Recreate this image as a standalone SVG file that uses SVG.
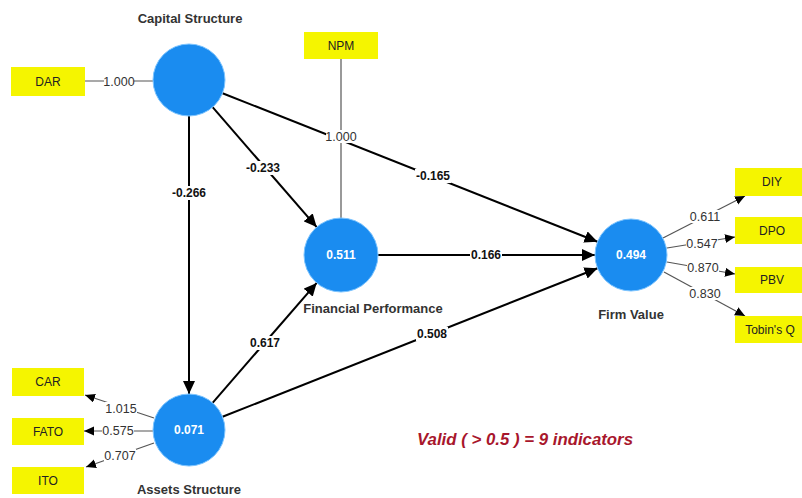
<svg xmlns="http://www.w3.org/2000/svg" width="802" height="498" viewBox="0 0 802 498">
<defs>
<marker id="ah" markerUnits="userSpaceOnUse" markerWidth="14" markerHeight="12" refX="13" refY="6" orient="auto"><path d="M0,0 L13,6 L0,12 z" fill="#000"/></marker>
<marker id="ahs" markerUnits="userSpaceOnUse" markerWidth="11" markerHeight="10" refX="10" refY="4.5" orient="auto"><path d="M0,0 L10,4.5 L0,9 z" fill="#000"/></marker>
</defs>
<style>
.lv{fill:#1a8cf0;stroke:#7cc4ff;stroke-width:1}
.ind{fill:#f5f500}
.it{font-family:"Liberation Sans",Arial,sans-serif;font-size:12px;fill:#222;text-anchor:middle}
.nm{font-family:"Liberation Sans",Arial,sans-serif;font-size:13px;font-weight:bold;fill:#333;text-anchor:middle}
.r2{font-family:"Liberation Sans",Arial,sans-serif;font-size:12px;font-weight:bold;fill:#fff;text-anchor:middle}
.pth{stroke:#000;stroke-width:2;fill:none;marker-end:url(#ah)}
.ld{stroke:#555;stroke-width:1.2;fill:none}
.lda{stroke:#555;stroke-width:1.2;fill:none;marker-end:url(#ahs)}
.bg{fill:#fff}
.pc{font-family:"Liberation Sans",Arial,sans-serif;font-size:12px;font-weight:bold;fill:#111;text-anchor:middle}
.lc{font-family:"Liberation Sans",Arial,sans-serif;font-size:12.5px;fill:#333;text-anchor:middle}
</style>
<rect width="802" height="498" fill="#fff"/>
<g id="connectors">
<line class="ld" x1="85" y1="81" x2="153" y2="81"/>
<line class="ld" x1="341" y1="59" x2="341" y2="218"/>
<line class="pth" x1="212.6" y1="107.2" x2="316.7" y2="227.1"/>
<line class="pth" x1="222.5" y1="93.2" x2="597.5" y2="241.8"/>
<line class="pth" x1="189" y1="116" x2="189" y2="394"/>
<line class="pth" x1="378" y1="255" x2="595" y2="255"/>
<line class="pth" x1="212.6" y1="402.8" x2="316.7" y2="282.9"/>
<line class="pth" x1="222.5" y1="416.8" x2="597.5" y2="268.2"/>
<line class="lda" x1="663" y1="238" x2="745" y2="196"/>
<line class="lda" x1="667" y1="248" x2="735" y2="237"/>
<line class="lda" x1="667" y1="262" x2="735" y2="274"/>
<line class="lda" x1="664" y1="272" x2="745" y2="316"/>
<line class="lda" x1="154" y1="418" x2="85" y2="395"/>
<line class="lda" x1="153" y1="431" x2="84" y2="431"/>
<line class="lda" x1="154" y1="443" x2="86" y2="467"/>
<rect class="bg" x="104" y="75" width="30" height="13"/>
<rect class="bg" x="326" y="130" width="30" height="13"/>
<rect class="bg" x="171" y="186" width="36" height="14"/>
<rect class="bg" x="245" y="161" width="36" height="14"/>
<rect class="bg" x="415" y="169" width="36" height="14"/>
<rect class="bg" x="470" y="248" width="32" height="14"/>
<rect class="bg" x="249" y="336" width="32" height="14"/>
<rect class="bg" x="416" y="327" width="32" height="14"/>
<rect class="bg" x="689" y="210" width="32" height="13"/>
<rect class="bg" x="686" y="237" width="32" height="13"/>
<rect class="bg" x="687" y="261" width="32" height="13"/>
<rect class="bg" x="689" y="287" width="32" height="13"/>
<rect class="bg" x="105" y="402" width="32" height="13"/>
<rect class="bg" x="102" y="424" width="32" height="13"/>
<rect class="bg" x="104" y="449" width="32" height="13"/>
<text class="lc" x="119" y="86">1.000</text>
<text class="lc" x="341" y="141">1.000</text>
<text class="pc" x="189" y="197">-0.266</text>
<text class="pc" x="263" y="172">-0.233</text>
<text class="pc" x="433" y="180">-0.165</text>
<text class="pc" x="486" y="259">0.166</text>
<text class="pc" x="265" y="347">0.617</text>
<text class="pc" x="432" y="338">0.508</text>
<text class="lc" x="705" y="221">0.611</text>
<text class="lc" x="702" y="248">0.547</text>
<text class="lc" x="703" y="272">0.870</text>
<text class="lc" x="705" y="298">0.830</text>
<text class="lc" x="121" y="413">1.015</text>
<text class="lc" x="118" y="435">0.575</text>
<text class="lc" x="120" y="460">0.707</text>
</g>
<g id="capital-structure">
<circle class="lv" cx="189" cy="80" r="36"/>
<text class="nm" x="190" y="23">Capital Structure</text>
</g>
<g id="financial-performance">
<circle class="lv" cx="341" cy="255" r="37"/>
<text class="r2" x="341" y="259">0.511</text>
<text class="nm" x="373" y="313">Financial Performance</text>
</g>
<g id="firm-value">
<circle class="lv" cx="631" cy="255" r="36"/>
<text class="r2" x="631" y="259">0.494</text>
<text class="nm" x="631" y="319">Firm Value</text>
</g>
<g id="assets-structure">
<circle class="lv" cx="189" cy="430" r="36"/>
<text class="r2" x="189" y="434">0.071</text>
<text class="nm" x="189" y="494">Assets Structure</text>
</g>
<g id="DAR"><rect class="ind" x="11" y="67" width="74" height="29"/><text class="it" x="48" y="86">DAR</text></g>
<g id="NPM"><rect class="ind" x="304" y="32" width="74" height="27"/><text class="it" x="341" y="50">NPM</text></g>
<g id="CAR"><rect class="ind" x="12" y="368" width="72" height="28"/><text class="it" x="48" y="386">CAR</text></g>
<g id="FATO"><rect class="ind" x="12" y="418" width="72" height="27"/><text class="it" x="48" y="436">FATO</text></g>
<g id="ITO"><rect class="ind" x="12" y="467" width="72" height="27"/><text class="it" x="48" y="485">ITO</text></g>
<g id="DIY"><rect class="ind" x="735" y="168" width="67" height="28"/><text class="it" x="772" y="186">DIY</text></g>
<g id="DPO"><rect class="ind" x="735" y="217" width="67" height="27"/><text class="it" x="772" y="235">DPO</text></g>
<g id="PBV"><rect class="ind" x="735" y="267" width="67" height="26"/><text class="it" x="772" y="284">PBV</text></g>
<g id="TobinsQ"><rect class="ind" x="735" y="316" width="67" height="27"/><text class="it" x="770" y="334">Tobin's Q</text></g>
<text x="417" y="445" font-family="'Liberation Sans',Arial,sans-serif" font-size="16" font-weight="bold" font-style="italic" fill="#a8162c" textLength="216" lengthAdjust="spacingAndGlyphs">Valid ( &gt; 0.5 ) = 9 indicators</text>
</svg>
